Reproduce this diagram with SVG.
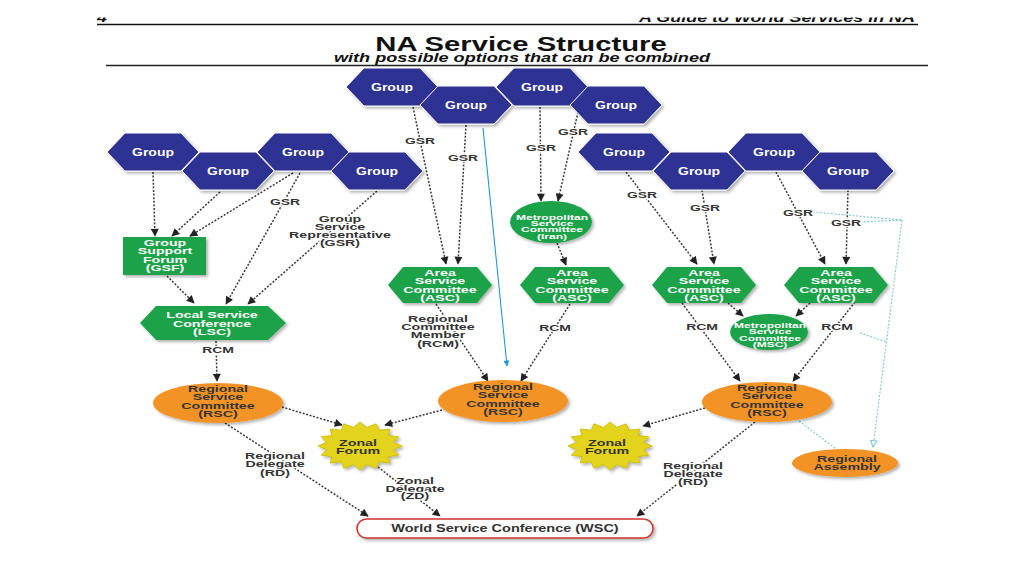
<svg xmlns="http://www.w3.org/2000/svg" xmlns:xlink="http://www.w3.org/1999/xlink" width="1024" height="576" viewBox="0 0 1024 576">
<style>
text{font-family:"Liberation Sans",Arial,sans-serif;font-weight:bold;text-anchor:middle}
.fG{fill:#2D3192;stroke:#fff;stroke-width:1}
.fN{fill:#1FA24A}
.fO{fill:#F39325}
.gt{fill:#fff;font-size:10px}
.wt{fill:#fff;font-size:9px}
.dk{fill:#333;font-size:9px}
.sm{fill:#fff;font-size:7.5px}
.lbl{fill:#333;font-size:9px;stroke:#fff;stroke-width:2.5;stroke-linejoin:round;paint-order:stroke}
.c{fill:none;stroke:#3a3a3a;stroke-width:1.5;stroke-dasharray:2 1.6;marker-end:url(#a)}
.b{fill:none;stroke:#7CC6D8;stroke-width:1.1;stroke-dasharray:2 1.6}
.sh{filter:url(#sh)}
</style>
<defs>
<filter id="sh" x="-20%" y="-30%" width="140%" height="160%"><feDropShadow dx="2" dy="2" stdDeviation="1.5" flood-color="#000" flood-opacity="0.3"/></filter>
<marker id="a" viewBox="0 0 10 10" refX="9" refY="5" markerWidth="9" markerHeight="8" markerUnits="userSpaceOnUse" orient="auto"><path d="M0,0 L10,5 L0,10 z" fill="#222"/></marker>
<marker id="ab" viewBox="0 0 10 10" refX="9" refY="5" markerWidth="8" markerHeight="6" markerUnits="userSpaceOnUse" orient="auto"><path d="M0,0 L10,5 L0,10 z" fill="#1E9AD6"/></marker>
<marker id="ah" viewBox="0 0 10 10" refX="9" refY="5" markerWidth="9" markerHeight="8" markerUnits="userSpaceOnUse" orient="auto"><path d="M1,1 L9,5 L1,9 z" fill="#fff" stroke="#6EC3DA" stroke-width="1.2"/></marker>
<polygon id="hexG" points="-46,0 -28,-19 28,-19 46,0 28,19 -28,19"/>
<polygon id="hexA" points="-52,0 -37,-18 37,-18 52,0 37,18 -37,18"/>
<path id="star" d="M42,0 L33.4,3.7 L38.8,9.2 L28.3,10.6 L29.7,17 L18.9,15.8 L16.1,22.2 L6.6,18.6 L0,24 L-6.6,18.6 L-16.1,22.2 L-18.9,15.8 L-29.7,17 L-28.3,10.6 L-38.8,9.2 L-33.4,3.7 L-42,0 L-33.4,-3.7 L-38.8,-9.2 L-28.3,-10.6 L-29.7,-17 L-18.9,-15.8 L-16.1,-22.2 L-6.6,-18.6 L0,-24 L6.6,-18.6 L16.1,-22.2 L18.9,-15.8 L29.7,-17 L28.3,-10.6 L38.8,-9.2 L33.4,-3.7 Z"/>
<clipPath id="hc"><rect x="0" y="17.5" width="1024" height="8"/></clipPath>
</defs>
<rect width="1024" height="576" fill="#fff"/>

<g id="header">
<g clip-path="url(#hc)">
<text transform="translate(97,22) scale(1.38,1)" style="text-anchor:start;font-style:italic;font-size:13px;fill:#111">4</text>
<text transform="translate(915,22) scale(1.38,1)" style="text-anchor:end;font-style:italic;font-size:13px;fill:#111">A Guide to World Services in NA</text>
</g>
<path d="M97,24.5 H918" stroke="#111" stroke-width="1.6"/>
<text transform="translate(521,51) scale(1.5,1)" style="font-size:19.5px;fill:#111">NA Service Structure</text>
<text transform="translate(522,61.5) scale(1.45,1)" style="font-size:12.5px;font-style:italic;fill:#111">with possible options that can be combined</text>
<path d="M106,65.5 H928" stroke="#222" stroke-width="1.3"/>
</g>

<g id="connectors">
<path class="c" d="M413,107 L446,264"/>
<path class="c" d="M466,125 L458,264"/>
<path class="c" d="M540,107 L541,201"/>
<path class="c" d="M578,112 L558,201"/>
<path class="c" d="M557,243 L566,265"/>
<path class="c" d="M153,172 L155,236"/>
<path class="c" d="M220,192 L172,236"/>
<path class="c" d="M293,173 L190,236"/>
<path class="c" d="M300,173 L226,304"/>
<path class="c" d="M377,191 L248,304"/>
<path class="c" d="M167,276 L194,303"/>
<path class="c" d="M216,341 L217,381"/>
<path class="c" d="M436,304 L488,381"/>
<path class="c" d="M570,304 L521,381"/>
<path d="M483,128 L507,366" fill="none" stroke="#1E9AD6" stroke-width="1.1" marker-end="url(#ab)"/>
<path class="c" d="M626,172 L697,264"/>
<path class="c" d="M702,190 L714,264"/>
<path class="c" d="M776,172 L825,264"/>
<path class="c" d="M848,190 L846,264"/>
<path class="c" d="M728,303 L743,316"/>
<path class="c" d="M810,303 L796,316"/>
<path class="c" d="M682,303 L740,381"/>
<path class="c" d="M855,302 L793,381"/>
<path class="c" d="M282,407 L342,425"/>
<path class="c" d="M442,410 L385,425"/>
<path class="c" d="M705,408 L643,426"/>
<path class="c" d="M225,423 L368,516"/>
<path class="c" d="M378,467 L440,516"/>
<path class="c" d="M755,422 L637,516"/>
<path class="b" d="M813,212 L902,220"/>
<path class="b" d="M860,222 L902,220"/>
<path class="b" d="M902,220 L873,447" marker-end="url(#ah)"/>
<path class="b" d="M860,333 L887,342"/>
<path class="b" d="M799,421 L836,449"/>
<text class="lbl" transform="translate(420,144.4) scale(1.55,1)">GSR</text>
<text class="lbl" transform="translate(463,161.4) scale(1.55,1)">GSR</text>
<text class="lbl" transform="translate(541,151.4) scale(1.55,1)">GSR</text>
<text class="lbl" transform="translate(573,135.4) scale(1.55,1)">GSR</text>
<text class="lbl" transform="translate(285,205.4) scale(1.55,1)">GSR</text>
<text class="lbl" transform="translate(642,198.4) scale(1.55,1)">GSR</text>
<text class="lbl" transform="translate(705,211.4) scale(1.55,1)">GSR</text>
<text class="lbl" transform="translate(798,216.4) scale(1.55,1)">GSR</text>
<text class="lbl" transform="translate(846,226.4) scale(1.55,1)">GSR</text>
<text class="lbl" transform="translate(340,221.5) scale(1.58,1)"><tspan x="0">Group</tspan><tspan x="0" dy="8.3">Service</tspan><tspan x="0" dy="8.3">Representative</tspan><tspan x="0" dy="8.3">(GSR)</tspan></text>
<text class="lbl" transform="translate(218,353.3) scale(1.55,1)">RCM</text>
<text class="lbl" transform="translate(438,322) scale(1.58,1)"><tspan x="0">Regional</tspan><tspan x="0" dy="8.2">Committee</tspan><tspan x="0" dy="8.2">Member</tspan><tspan x="0" dy="8.2">(RCM)</tspan></text>
<text class="lbl" transform="translate(555,331.3) scale(1.55,1)">RCM</text>
<text class="lbl" transform="translate(702,330.3) scale(1.55,1)">RCM</text>
<text class="lbl" transform="translate(837,330.3) scale(1.55,1)">RCM</text>
<text class="lbl" transform="translate(275,459) scale(1.58,1)"><tspan x="0">Regional</tspan><tspan x="0" dy="8.5">Delegate</tspan><tspan x="0" dy="8.5">(RD)</tspan></text>
<text class="lbl" transform="translate(415,483.5) scale(1.58,1)"><tspan x="0">Zonal</tspan><tspan x="0" dy="8">Delegate</tspan><tspan x="0" dy="8">(ZD)</tspan></text>
<text class="lbl" transform="translate(693,468.5) scale(1.58,1)"><tspan x="0">Regional</tspan><tspan x="0" dy="8.5">Delegate</tspan><tspan x="0" dy="8.5">(RD)</tspan></text>
</g>

<g id="group1"><use href="#hexG" x="392" y="87" class="fG sh"/><text class="gt" transform="translate(392,90.5) scale(1.4,1)">Group</text></g>
<g id="group2"><use href="#hexG" x="466" y="105" class="fG sh"/><text class="gt" transform="translate(466,108.5) scale(1.4,1)">Group</text></g>
<g id="group3"><use href="#hexG" x="542" y="87" class="fG sh"/><text class="gt" transform="translate(542,90.5) scale(1.4,1)">Group</text></g>
<g id="group4"><use href="#hexG" x="616" y="105" class="fG sh"/><text class="gt" transform="translate(616,108.5) scale(1.4,1)">Group</text></g>
<g id="group5"><use href="#hexG" x="153" y="152" class="fG sh"/><text class="gt" transform="translate(153,155.5) scale(1.4,1)">Group</text></g>
<g id="group6"><use href="#hexG" x="228" y="171" class="fG sh"/><text class="gt" transform="translate(228,174.5) scale(1.4,1)">Group</text></g>
<g id="group7"><use href="#hexG" x="303" y="152" class="fG sh"/><text class="gt" transform="translate(303,155.5) scale(1.4,1)">Group</text></g>
<g id="group8"><use href="#hexG" x="377" y="171" class="fG sh"/><text class="gt" transform="translate(377,174.5) scale(1.4,1)">Group</text></g>
<g id="group9"><use href="#hexG" x="624" y="152" class="fG sh"/><text class="gt" transform="translate(624,155.5) scale(1.4,1)">Group</text></g>
<g id="group10"><use href="#hexG" x="699" y="171" class="fG sh"/><text class="gt" transform="translate(699,174.5) scale(1.4,1)">Group</text></g>
<g id="group11"><use href="#hexG" x="774" y="152" class="fG sh"/><text class="gt" transform="translate(774,155.5) scale(1.4,1)">Group</text></g>
<g id="group12"><use href="#hexG" x="848" y="171" class="fG sh"/><text class="gt" transform="translate(848,174.5) scale(1.4,1)">Group</text></g>

<g id="gsf"><rect x="123" y="237" width="83" height="38" class="fN sh"/><text class="wt" transform="translate(165,246) scale(1.58,1)"><tspan x="0">Group</tspan><tspan x="0" dy="8.5">Support</tspan><tspan x="0" dy="8.5">Forum</tspan><tspan x="0" dy="8.5">(GSF)</tspan></text></g>
<g id="lsc"><polygon points="140,323 156,306 268,306 286,323 268,340 156,340" class="fN sh"/><text class="wt" transform="translate(212,318) scale(1.58,1)"><tspan x="0">Local Service</tspan><tspan x="0" dy="8.7">Conference</tspan><tspan x="0" dy="8.7">(LSC)</tspan></text></g>
<g id="msc-iran"><ellipse cx="551" cy="222" rx="41" ry="21" class="fN sh"/><text class="sm" transform="translate(552,219.5) scale(1.6,1)"><tspan x="0">Metropolitan</tspan><tspan x="0" dy="6.5">Service</tspan><tspan x="0" dy="6.5">Committee</tspan><tspan x="0" dy="6.5">(Iran)</tspan></text></g>
<g id="asc1"><use href="#hexA" x="440" y="285" class="fN sh"/><text class="wt" transform="translate(440,276) scale(1.58,1)"><tspan x="0">Area</tspan><tspan x="0" dy="8.3">Service</tspan><tspan x="0" dy="8.3">Committee</tspan><tspan x="0" dy="8.3">(ASC)</tspan></text></g>
<g id="asc2"><use href="#hexA" x="572" y="285" class="fN sh"/><text class="wt" transform="translate(572,276) scale(1.58,1)"><tspan x="0">Area</tspan><tspan x="0" dy="8.3">Service</tspan><tspan x="0" dy="8.3">Committee</tspan><tspan x="0" dy="8.3">(ASC)</tspan></text></g>
<g id="asc3"><use href="#hexA" x="704" y="285" class="fN sh"/><text class="wt" transform="translate(704,276) scale(1.58,1)"><tspan x="0">Area</tspan><tspan x="0" dy="8.3">Service</tspan><tspan x="0" dy="8.3">Committee</tspan><tspan x="0" dy="8.3">(ASC)</tspan></text></g>
<g id="asc4"><use href="#hexA" x="836" y="285" class="fN sh"/><text class="wt" transform="translate(836,276) scale(1.58,1)"><tspan x="0">Area</tspan><tspan x="0" dy="8.3">Service</tspan><tspan x="0" dy="8.3">Committee</tspan><tspan x="0" dy="8.3">(ASC)</tspan></text></g>
<g id="msc"><ellipse cx="769" cy="332" rx="39" ry="18" class="fN sh"/><text class="sm" transform="translate(770,328) scale(1.6,1)"><tspan x="0">Metropolitan</tspan><tspan x="0" dy="6.4">Service</tspan><tspan x="0" dy="6.4">Committee</tspan><tspan x="0" dy="6.4">(MSC)</tspan></text></g>

<g id="rsc1"><ellipse cx="218" cy="403" rx="65" ry="20" class="fO sh"/><text class="dk" transform="translate(218,392) scale(1.58,1)"><tspan x="0">Regional</tspan><tspan x="0" dy="8.5">Service</tspan><tspan x="0" dy="8.5">Committee</tspan><tspan x="0" dy="8.5">(RSC)</tspan></text></g>
<g id="rsc2"><ellipse cx="503" cy="401" rx="65" ry="21" class="fO sh"/><text class="dk" transform="translate(503,390) scale(1.58,1)"><tspan x="0">Regional</tspan><tspan x="0" dy="8.5">Service</tspan><tspan x="0" dy="8.5">Committee</tspan><tspan x="0" dy="8.5">(RSC)</tspan></text></g>
<g id="rsc3"><ellipse cx="767" cy="402" rx="65" ry="20" class="fO sh"/><text class="dk" transform="translate(767,391) scale(1.58,1)"><tspan x="0">Regional</tspan><tspan x="0" dy="8.5">Service</tspan><tspan x="0" dy="8.5">Committee</tspan><tspan x="0" dy="8.5">(RSC)</tspan></text></g>
<g id="regional-assembly"><ellipse cx="845" cy="463" rx="53" ry="14" class="fO sh"/><text class="dk" transform="translate(847,462) scale(1.58,1)"><tspan x="0">Regional</tspan><tspan x="0" dy="8.3">Assembly</tspan></text></g>

<g id="zonal1"><use href="#star" x="360" y="446" fill="#E3D31F" stroke="#C9B800" stroke-width="0.8" class="sh"/><text class="dk" transform="translate(358,445.5) scale(1.58,1)"><tspan x="0">Zonal</tspan><tspan x="0" dy="8.4">Forum</tspan></text></g>
<g id="zonal2"><use href="#star" x="610" y="446" fill="#E3D31F" stroke="#C9B800" stroke-width="0.8" class="sh"/><text class="dk" transform="translate(607,445.5) scale(1.58,1)"><tspan x="0">Zonal</tspan><tspan x="0" dy="8.4">Forum</tspan></text></g>

<g id="wsc"><rect x="357" y="519" width="296" height="19" rx="9.5" fill="#fff" stroke="#D2322D" stroke-width="1.6" class="sh"/><text class="dk" transform="translate(505,532) scale(1.38,1)" style="font-size:10.5px">World Service Conference (WSC)</text></g>
</svg>
